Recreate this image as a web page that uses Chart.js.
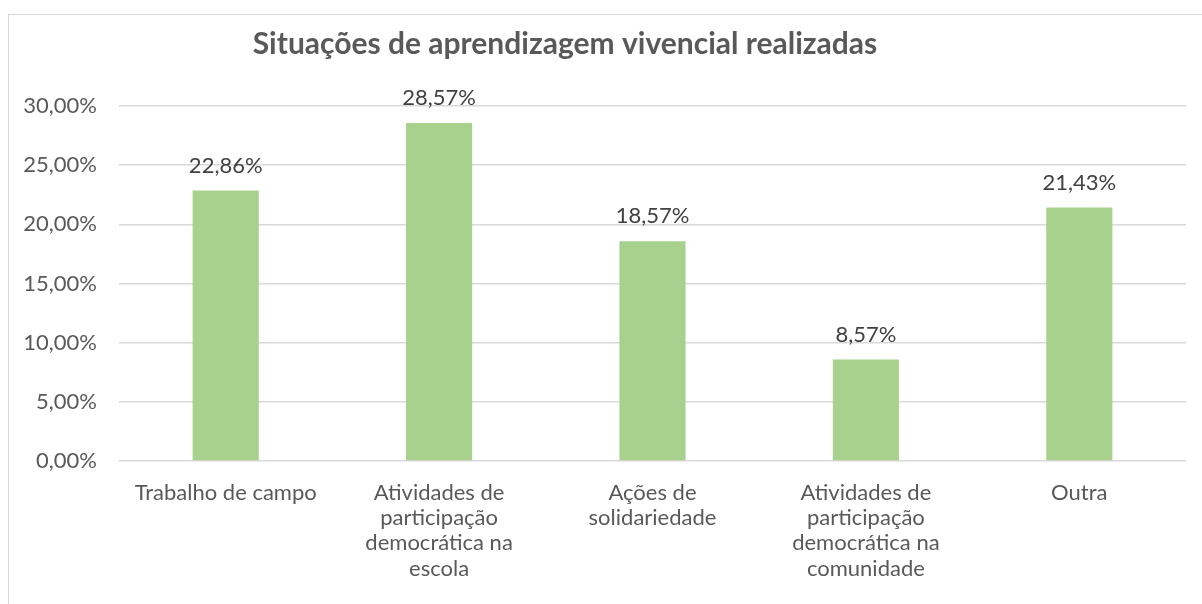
<!DOCTYPE html>
<html>
<head>
<meta charset="utf-8">
<script src="https://cdn.jsdelivr.net/npm/chart.js@4.4.1/dist/chart.umd.min.js"></script>
<style>
  html, body { margin: 0; padding: 0; background: #fff; }
  #wrap { position: relative; width: 1202px; height: 604px; overflow: hidden; }
  #frame { position: absolute; left: 8px; top: 14px; width: 1200px; height: 620px;
           border: 1.5px solid #d9d9d9; box-sizing: border-box; pointer-events: none; }
  canvas { position: absolute; left: 0; top: 0; }
</style>
</head>
<body>
<div id="wrap">
  <div id="frame"></div>
  <canvas id="c" width="1202" height="604"></canvas>
</div>
<script>
// Situações de aprendizagem vivencial realizadas — single bar series

const titleText = 'Situações de aprendizagem vivencial realizadas';
const categories = [
  ['Trabalho de campo'],
  ['Atividades de', 'participação', 'democrática na', 'escola'],
  ['Ações de', 'solidariedade'],
  ['Atividades de', 'participação', 'democrática na', 'comunidade'],
  ['Outra'],
];
const shares = [0.2286, 0.2857, 0.1857, 0.0857, 0.2143];
const yTicks = [0, 0.05, 0.10, 0.15, 0.20, 0.25, 0.30];

const FONT = 'Lato, "Open Sans", sans-serif';
const pct = v => (v * 100).toFixed(2).replace('.', ',') + '%';

// data labels above each bar
const barLabels = {
  id: 'barLabels',
  afterDatasetsDraw(chart) {
    const { ctx } = chart;
    const meta = chart.getDatasetMeta(0);
    ctx.save();
    ctx.font = '22px ' + FONT;
    ctx.fillStyle = '#404040';
    ctx.textAlign = 'center';
    ctx.textBaseline = 'middle';
    meta.data.forEach((bar, i) => {
      ctx.fillText(pct(shares[i]), bar.x, bar.y - 25);
    });
    ctx.restore();
  },
};

// title sits left of the plot centre, like the original
const chartTitle = {
  id: 'chartTitle',
  afterDraw(chart) {
    const { ctx } = chart;
    ctx.save();
    ctx.font = 'bold 30px ' + FONT;
    ctx.fillStyle = '#595959';
    ctx.textAlign = 'center';
    ctx.textBaseline = 'middle';
    ctx.fillText(titleText, 565, 44);
    ctx.restore();
  },
};

new Chart(document.getElementById('c'), {
  type: 'bar',
  data: {
    labels: categories,
    datasets: [{
      data: shares,
      backgroundColor: '#a9d18e',
      categoryPercentage: 1,
      barPercentage: 0.31,
    }],
  },
  options: {
    responsive: false,
    animation: false,
    layout: { padding: { top: 106, right: 16, bottom: 0, left: 0 } },
    plugins: { legend: { display: false }, title: { display: false }, tooltip: { enabled: false } },
    scales: {
      x: {
        grid: { display: false, drawTicks: false },
        border: { display: false },
        ticks: {
          color: '#595959', font: { family: FONT, size: 22, lineHeight: 1.15 },
          padding: 19, maxRotation: 0, autoSkip: false,
        },
        afterFit(s) { s.height = 143; },
      },
      y: {
        min: 0, max: 0.30,
        afterBuildTicks(s) { s.ticks = yTicks.map(v => ({ value: v })); },
        grid: { color: '#d9d9d9', lineWidth: 1.5, drawTicks: false },
        border: { display: false },
        ticks: {
          color: '#595959', font: { family: FONT, size: 22 },
          padding: 22, callback: v => pct(v),
        },
        afterFit(s) { s.width = 119; },
      },
    },
  },
  plugins: [barLabels, chartTitle],
});
</script>
</body>
</html>
